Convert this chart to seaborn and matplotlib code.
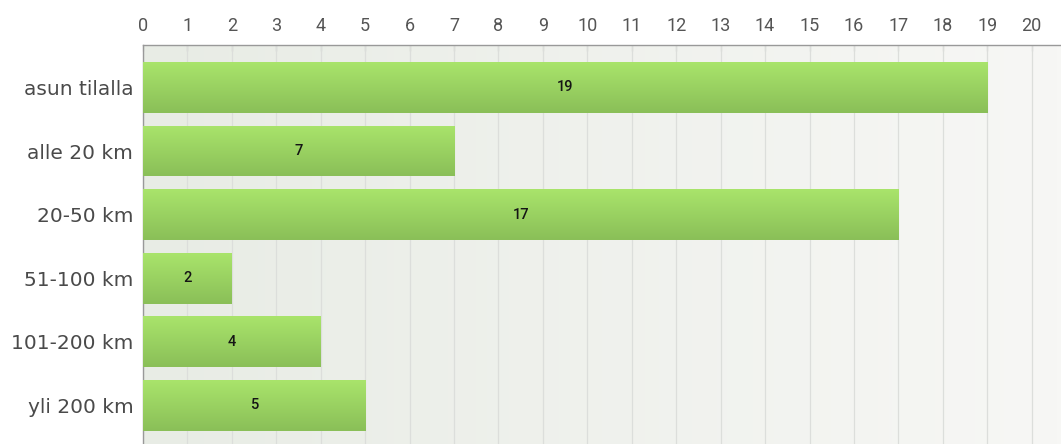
import numpy as np
import pandas as pd
import matplotlib
matplotlib.use('Agg')
import matplotlib.pyplot as plt
import seaborn as sns

# data
categories = ['asun tilalla', 'alle 20 km', '20-50 km', '51-100 km', '101-200 km', 'yli 200 km']
counts = [19, 7, 17, 2, 4, 5]
x_ticks = list(range(0, 21))

BAR_TOP = np.array([0xa9, 0xe4, 0x6b]) / 255
BAR_BOT = np.array([0x8a, 0xbf, 0x58]) / 255
BG_LEFT = np.array([0xe8, 0xec, 0xe5]) / 255
BG_RIGHT = np.array([0xf7, 0xf7, 0xf5]) / 255

sns.set_theme(style='white')
plt.rcParams['font.family'] = ['DejaVu Sans']

df = pd.DataFrame({'vastaus': categories, 'lkm': counts})

fig = plt.figure(figsize=(10.61, 4.44), dpi=100)
ax = fig.add_axes([143 / 1061, 0, (1061 - 143) / 1061, (444 - 45) / 444])

sns.barplot(data=df, x='lkm', y='vastaus', orient='h', width=0.8,
            color='#9ed363', ax=ax, zorder=3)

# background gradient
t = np.linspace(0, 1, 256)
bg = (BG_LEFT[None, :] * (1 - t[:, None]) + BG_RIGHT[None, :] * t[:, None])[None, :, :]
ax.imshow(bg, extent=[0, 1, 0, 1], transform=ax.transAxes, aspect='auto', zorder=0)

# gradient fill in each bar
s = np.linspace(0, 1, 64)
grad = (BAR_TOP[None, :] * (1 - s[:, None]) + BAR_BOT[None, :] * s[:, None])[:, None, :]
for p in ax.patches:
    x0, y0 = p.get_x(), p.get_y()
    w, h = p.get_width(), p.get_height()
    p.set_edgecolor('none')
    im = ax.imshow(grad, extent=[x0, x0 + w, y0 + h, y0], origin='upper',
                   aspect='auto', zorder=3.5)
    im.set_clip_path(p)

# vertical grid
for v in x_ticks:
    ax.axvline(v, color='#dcdedb', lw=0.9, zorder=1)

# value labels
for i, v in enumerate(counts):
    ax.text(v / 2, i, str(v), ha='center', va='center', fontsize=10.5,
            family='Roboto', fontweight='medium', color='#151515', zorder=5)

ax.set_xlim(0, 20.66)
ax.set_ylim(5.61, -0.668)
ax.set_xticks(x_ticks)
ax.set_xlabel('')
ax.set_ylabel('')
ax.xaxis.tick_top()
ax.tick_params(axis='x', direction='in', length=4, width=0.8, color='#888888',
               labelsize=13, labelcolor='#555555', pad=7)
for lab in ax.get_xticklabels():
    lab.set_family('Roboto')
ax.tick_params(axis='y', length=0, labelsize=14.5, labelcolor='#4a4a4a', pad=7)

for side in ['right', 'bottom']:
    ax.spines[side].set_visible(False)
for side in ['top', 'left']:
    ax.spines[side].set_color('#999999')
    ax.spines[side].set_linewidth(1.0)

plt.savefig('out.png', dpi=100)
plt.close()
